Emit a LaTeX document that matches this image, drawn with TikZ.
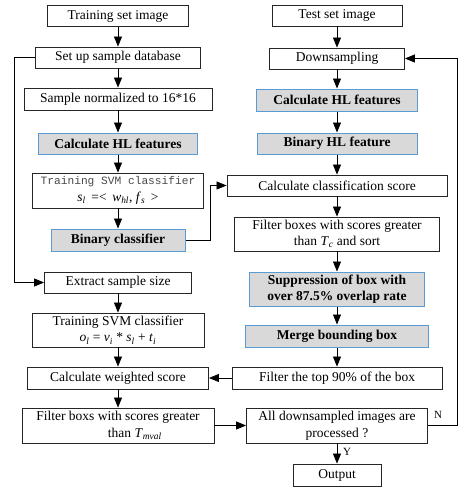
\documentclass[tikz,border=0pt]{standalone}
\usepackage{fontspec}
\setmainfont{Liberation Serif}
\setmonofont{Liberation Mono}
\usetikzlibrary{arrows.meta}
\definecolor{hlfill}{HTML}{D9D9D9}
\definecolor{hlborder}{HTML}{5B9BD5}
\definecolor{boxline}{HTML}{262626}
\definecolor{monogray}{HTML}{4A4A4A}
\newcommand{\isub}[2]{\textit{#1}\textsubscript{\textit{#2}}}
\tikzset{
  wh/.style 2 args={minimum width=#1pt, minimum height=#2pt},
  box/.style={draw=boxline, line width=0.85pt, fill=white, inner sep=1pt, align=center,
              font=\fontsize{13.5}{16.5}\selectfont, text=black},
  hl/.style={box, draw=hlborder, line width=1pt, fill=hlfill, font=\fontsize{13.5}{16.5}\selectfont\bfseries},
  arr/.style={line width=0.8pt, -{Triangle[length=10pt,width=8pt]}},
  yn/.style={font=\fontsize{11}{12}\selectfont, inner sep=0pt}
}
\begin{document}
\begin{tikzpicture}[x=1pt,y=-1pt]
\useasboundingbox (0,0) rectangle (459,487);
% left column
\node[box, wh={141}{21}] (t1) at (118,16) {Training set image};
\node[box, wh={165}{21}] (t2) at (118,57.5) {Set up sample database};
\node[box, wh={188}{22}] (t3) at (118,99) {Sample normalized to 16*16};
\node[hl,  wh={159}{21}] (t4) at (118,143.5) {Calculate HL features};
\node[box, wh={171}{35}] (t5) at (118,190.5) {{\ttfamily\fontsize{11.2}{16.5}\selectfont\color{monogray}Training SVM classifier}\\\isub{s}{l} \,=<\, \isub{w}{hl}, \isub{f}{s} \,>};
\node[hl,  wh={134}{22}] (t6) at (118,240) {Binary classifier};
\node[box, wh={147}{21}] (t7) at (118,282.5) {Extract sample size};
\node[box, wh={172}{34}] (t8) at (118,330) {Training SVM classifier\\\isub{o}{l} = \isub{ν}{i} * \isub{s}{l} + \isub{t}{i}};
\node[box, wh={181}{22}] (t9) at (118,378) {Calculate weighted score};
\node[box, wh={192}{35}] (t10) at (118,425.5) {Filter boxs with scores greater\\\hspace*{2.5em}than \isub{T}{mval}};
% right column
\node[box, wh={130}{21}] (r1) at (337,15.5) {Test set image};
\node[box, wh={135}{21}] (r2) at (337,58.5) {Downsampling};
\node[hl,  wh={161}{22}] (r3) at (337,100) {Calculate HL features};
\node[hl,  wh={160}{21}] (r4) at (337,143.5) {Binary HL feature};
\node[box, wh={220}{21}] (r5) at (337,185.5) {Calculate classification score};
\node[box, wh={205}{34}] (r6) at (337,234) {Filter boxes with scores greater\\than \isub{T}{c} and sort};
\node[hl,  wh={175}{34}] (r7) at (337,289) {Suppression of box with\\over 87.5\% overlap rate};
\node[hl,  wh={183}{22}] (r8) at (337,336) {Merge bounding box};
\node[box, wh={210}{22}] (r9) at (337,378) {Filter the top 90\% of the box};
\node[box, wh={181}{35}] (r10) at (337,425.5) {All downsampled images are\\processed ?};
\node[box, wh={88}{22}] (r11) at (337,475) {Output};
% helper coordinates
\coordinate (ll) at (14,0);
\coordinate (mr) at (210,0);
\coordinate (nr) at (457,0);
% left arrows
\draw[arr] (t1) -- (t2);
\draw[arr] (t2) -- (t3);
\draw[arr] (t3) -- (t4);
\draw[arr] (t4) -- (t5);
\draw[arr] (t5) -- (t6);
\draw[arr] (t7) -- (t8);
\draw[arr] (t8) -- (t9);
\draw[arr] (t9) -- (t10);
\draw[arr] (t2.west) -- (t2.west -| ll) |- (t7.west);
\draw[arr] (t6.east) -- (t6.east -| mr) |- (r5.west);
% right arrows
\draw[arr] (r1) -- (r2);
\draw[arr] (r2) -- (r3);
\draw[arr] (r3) -- (r4);
\draw[arr] (r4) -- (r5);
\draw[arr] (r5) -- (r6);
\draw[arr] (r6) -- (r7);
\draw[arr] (r7) -- (r8);
\draw[arr] (r8) -- (r9);
\draw[arr] (r10) -- (r11);
\draw[arr] (r9.west) -- (t9.east);
\draw[arr] (t10.east) -- (r10.west);
\draw[arr] (r10.east) -- (r10.east -| nr) |- (r2.east);
\node[yn, anchor=west] (ylab) at (343,452) {Y};
\node[yn] (nlab) at (438,415) {N};
\end{tikzpicture}
\end{document}
